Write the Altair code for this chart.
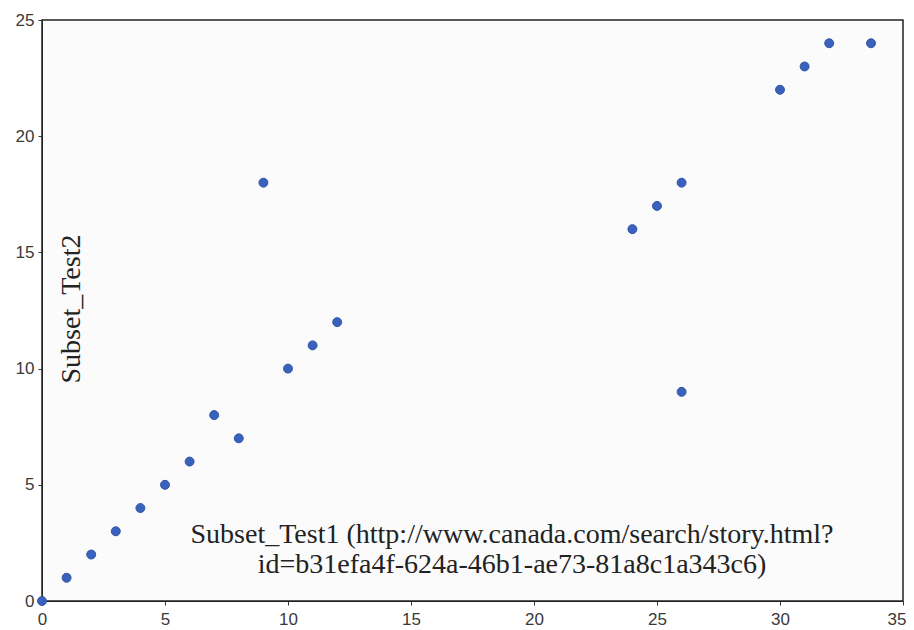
import altair as alt
import pandas as pd

subset_test1 = [0, 1, 2, 3, 4, 5, 6, 7, 8, 9, 10, 11, 12, 24, 25, 26, 26, 30, 31, 32, 33.7]
subset_test2 = [0, 1, 2, 3, 4, 5, 6, 8, 7, 18, 10, 11, 12, 16, 17, 18, 9, 22, 23, 24, 24]
x_ticks = [0, 5, 10, 15, 20, 25, 30, 35]
y_ticks = [0, 5, 10, 15, 20, 25]
x_title_line1 = "Subset_Test1 (http://www.canada.com/search/story.html?"
x_title_line2 = "id=b31efa4f-624a-46b1-ae73-81a8c1a343c6)"
y_title = "Subset_Test2"

df = pd.DataFrame({"x": subset_test1, "y": subset_test2})

W, H = 861, 581

points = alt.Chart(df).mark_circle(
    size=80, color="#3a62bd", opacity=1, stroke="#2f55a8", strokeWidth=1
).encode(
    x=alt.X("x:Q", scale=alt.Scale(domain=[0, 35], nice=False),
            axis=alt.Axis(values=x_ticks, title=None, grid=False, tickSize=4,
                          labelFont="Liberation Sans", labelFontSize=17,
                          labelColor="#3a3a3a", tickColor="#333333",
                          domainColor="#222222", labelPadding=6,
                          labelAlign=alt.expr("datum.value == 35 ? 'right' : 'center'"),
                          labelOffset=alt.expr("datum.value == 35 ? 3 : 0"))),
    y=alt.Y("y:Q", scale=alt.Scale(domain=[0, 25], nice=False),
            axis=alt.Axis(values=y_ticks, title=None, grid=False, tickSize=4,
                          labelFont="Liberation Sans", labelFontSize=17,
                          labelColor="#3a3a3a", tickColor="#333333",
                          domainColor="#222222", labelPadding=4)),
)

def title_text(txt, xpix, ypix, angle=0):
    return alt.Chart(pd.DataFrame({"t": [txt]})).mark_text(
        font="Liberation Serif", fontSize=28, color="#222222", angle=angle,
        align="center", baseline="middle"
    ).encode(text="t:N", x=alt.value(xpix), y=alt.value(ypix))

xtitle1 = title_text(x_title_line1, 470, 515)
xtitle2 = title_text(x_title_line2, 470, 545)
ytitle = title_text(y_title, 30, 289, angle=270)

chart = alt.layer(points, xtitle1, xtitle2, ytitle).properties(
    width=W, height=H, padding={"left": 7, "top": 3, "right": 0, "bottom": 0}
).configure_view(stroke="#222222", strokeWidth=1.5, fill="#fbfbfb")

chart.save("out.html", embed_options={"renderer": "svg", "actions": False})
